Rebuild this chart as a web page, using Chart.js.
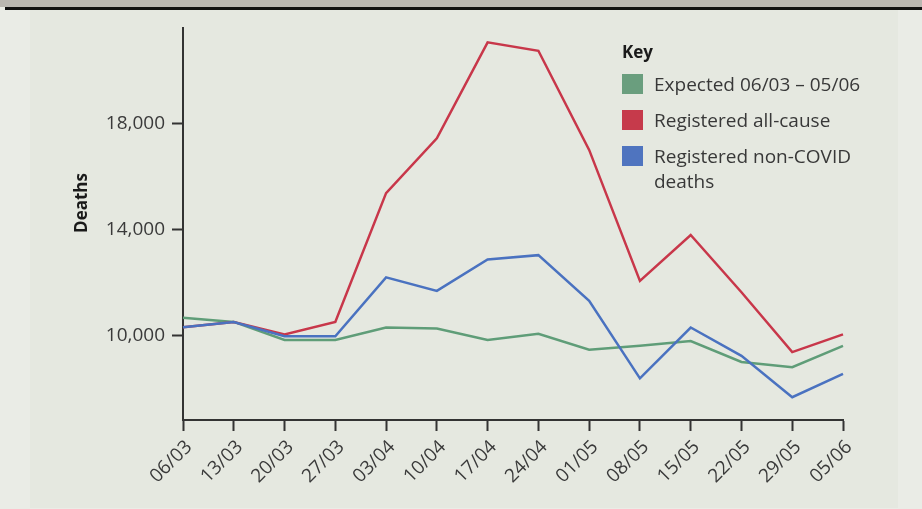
<!DOCTYPE html>
<html>
<head>
<meta charset="utf-8">
<script src="https://cdn.jsdelivr.net/npm/chart.js@4/dist/chart.umd.min.js"></script>
<style>
  html, body { margin: 0; padding: 0; }
  body { width: 922px; height: 509px; background: #eaece6; position: relative; overflow: hidden; font-family: "Open Sans", sans-serif; }
  #topbar { position: absolute; left: 0; top: 0; width: 922px; height: 7px; background: #bab7b1; }
  #rule { position: absolute; left: 5px; top: 7px; width: 917px; height: 3px; background: #111; }
  #panel { position: absolute; left: 30px; top: 10px; width: 868px; height: 498px; background: #e5e8e0; }
  #wrap { position: absolute; left: 0; top: 0; width: 922px; height: 509px; }
  #key { position: absolute; left: 622px; top: 40px; color: #383838; }
  #key .title { font-weight: bold; font-size: 17px; color: #1a1a1a; line-height: 24px; margin-bottom: 8px; }
  #key .item { display: flex; align-items: flex-start; font-size: 19px; line-height: 25px; margin-bottom: 11px; }
  #key .sw { width: 21px; height: 20px; margin-right: 11px; margin-top: 2px; flex: none; }
</style>
</head>
<body>
<div id="topbar"></div>
<div id="rule"></div>
<div id="panel"></div>
<div id="wrap"><canvas id="chart" width="922" height="509"></canvas></div>
<div id="key">
  <div class="title">Key</div>
  <div class="item"><span class="sw" style="background:#6a9e7e"></span><span>Expected 06/03 – 05/06</span></div>
  <div class="item"><span class="sw" style="background:#c63a4b"></span><span>Registered all-cause</span></div>
  <div class="item"><span class="sw" style="background:#4f74bf"></span><span>Registered non-COVID<br>deaths</span></div>
</div>
<script>
'use strict';
const weeks = ['06/03','13/03','20/03','27/03','03/04','10/04','17/04','24/04','01/05','08/05','15/05','22/05','29/05','05/06'];
const expected = [10690, 10530, 9850, 9850, 10320, 10280, 9850, 10080, 9480, 9630, 9810, 9020, 8820, 9630];
const allCause = [10330, 10530, 10060, 10530, 15390, 17460, 21080, 20760, 17020, 12080, 13810, 11650, 9390, 10060];
const nonCovid = [10330, 10530, 9990, 9990, 12210, 11700, 12890, 13050, 11330, 8400, 10320, 9250, 7690, 8570];
const yTicks = [10000, 14000, 18000];

const ink = '#333';
const tickFont = { family: '"Open Sans", sans-serif', size: 19 };

// y title is drawn by hand so it can sit a bit above centre, like the print
const deathsTitle = {
  id: 'deathsTitle',
  afterDraw(c) {
    const ctx = c.ctx;
    ctx.save();
    ctx.translate(82, 203);
    ctx.rotate(-Math.PI / 2);
    ctx.font = 'bold 17px "Open Sans", sans-serif';
    ctx.fillStyle = '#1a1a1a';
    ctx.textAlign = 'center';
    ctx.textBaseline = 'middle';
    ctx.fillText('Deaths', 0, 0);
    ctx.restore();
  }
};

const line = (data, color) => ({
  data, borderColor: color, borderWidth: 2.5, pointRadius: 0, tension: 0, fill: false
});

new Chart(document.getElementById('chart').getContext('2d'), {
  type: 'line',
  data: {
    labels: weeks,
    datasets: [
      Object.assign(line(nonCovid, '#4a72c0'), { label: 'Registered non-COVID deaths' }),
      Object.assign(line(allCause, '#c8374a'), { label: 'Registered all-cause' }),
      Object.assign(line(expected, '#5f9d78'), { label: 'Expected 06/03 – 05/06' })
    ]
  },
  options: {
    responsive: false,
    animation: false,
    layout: { padding: { top: 28, right: 79, bottom: 0, left: 0 } },
    plugins: { legend: { display: false }, tooltip: { enabled: false } },
    scales: {
      x: {
        offset: false,
        grid: { drawOnChartArea: false, drawTicks: true, tickLength: 11, tickWidth: 2, tickColor: ink },
        border: { color: ink, width: 2 },
        ticks: { color: '#3a3a3a', font: tickFont, minRotation: 45, maxRotation: 45, autoSkip: false, padding: 5, labelOffset: 6 },
        afterFit(s) { s.height = 89; }
      },
      y: {
        min: 6830, max: 21620,
        afterBuildTicks(s) { s.ticks = yTicks.map(v => ({ value: v })); },
        grid: { drawOnChartArea: false, drawTicks: true, tickLength: 11, tickWidth: 2, tickColor: ink },
        border: { color: ink, width: 2 },
        ticks: { color: '#3a3a3a', font: tickFont, padding: 7, callback: v => v.toLocaleString('en-US') },
        afterFit(s) { s.width = 183; }
      }
    }
  },
  plugins: [deathsTitle]
});
</script>
</body>
</html>
